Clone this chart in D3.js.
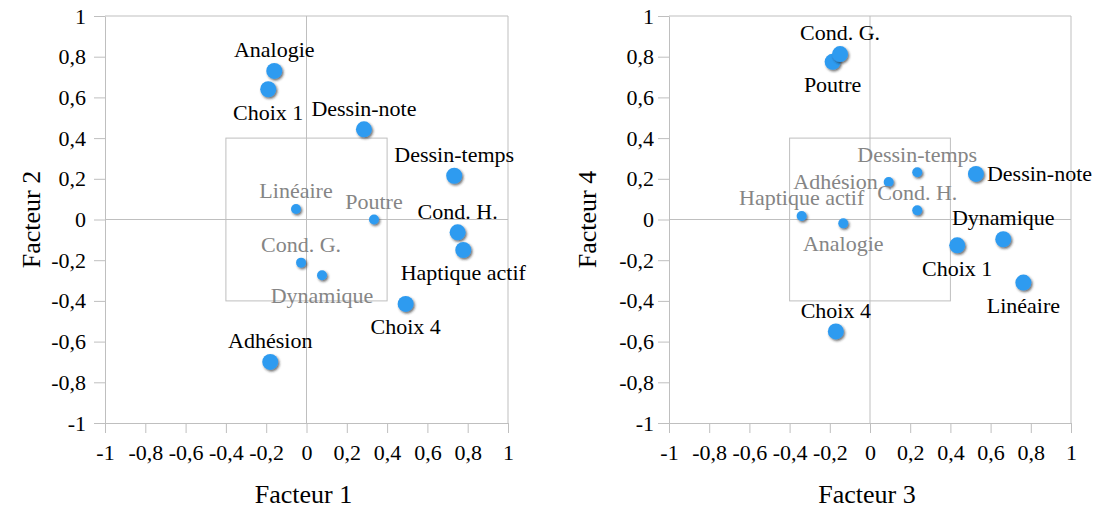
<!DOCTYPE html>
<html><head><meta charset="utf-8">
<script src="https://cdn.jsdelivr.net/npm/d3@7"></script>
</head>
<body style="margin:0">
<svg id="chart" width="1103" height="508"></svg>
<script>
// ---- data ----
const ticks = [-1, -0.8, -0.6, -0.4, -0.2, 0, 0.2, 0.4, 0.6, 0.8, 1];

const labelsA = ["Analogie","Choix 1","Dessin-note","Dessin-temps","Linéaire","Poutre","Cond. H.","Haptique actif","Cond. G.","Dynamique","Choix 4","Adhésion"];
const facteur1 = [-0.16, -0.19, 0.285, 0.733, -0.052, 0.335, 0.75, 0.778, -0.027, 0.077, 0.492, -0.18];
const facteur2 = [0.73, 0.64, 0.443, 0.215, 0.052, 0.0, -0.063, -0.15, -0.212, -0.274, -0.415, -0.70];
const placeA = ["above","below","above","above","above","above","above","below","above","below","below","above"];

const labelsB = ["Poutre","Cond. G.","Dessin-temps","Adhésion","Cond. H.","Haptique actif","Analogie","Dessin-note","Dynamique","Choix 1","Linéaire","Choix 4"];
const facteur3 = [-0.186, -0.149, 0.235, 0.093, 0.235, -0.34, -0.133, 0.527, 0.663, 0.434, 0.763, -0.17];
const facteur4 = [0.775, 0.813, 0.232, 0.184, 0.045, 0.017, -0.019, 0.224, -0.097, -0.127, -0.31, -0.55];
const placeB = ["below","above","above","left","above","above","below","right","above","below","below","above"];

const boxLimit = 0.4;

// ---- drawing ----
const svg = d3.select("#chart");
const gridColor = "#BFBFBF";
const dotColor = "#2F9BF0";
const fmt = v => String(+v.toFixed(1)).replace(".", ",");
const serif = sel => sel.attr("font-family", "Liberation Serif").style("font-family", () => '"Liberation Serif"');

const defs = svg.append("defs");
const f = defs.append("filter").attr("id","shadow").attr("x","-50%").attr("y","-50%").attr("width","200%").attr("height","200%");
f.append("feDropShadow").attr("dx",1.3).attr("dy",1.6).attr("stdDeviation",0.9)
  .attr("flood-color","#222").attr("flood-opacity",0.65);

function panel(cfg) {
  const x = d3.scaleLinear().domain([-1, 1]).range([cfg.x0, cfg.x1]);
  const y = d3.scaleLinear().domain([-1, 1]).range([cfg.y1, cfg.y0]);
  const g = svg.append("g");

  g.append("line").attr("x1", x(-1)).attr("x2", x(1)).attr("y1", y(1)).attr("y2", y(1)).attr("stroke", gridColor);
  g.append("line").attr("x1", x(1)).attr("x2", x(1)).attr("y1", y(1)).attr("y2", y(-1)).attr("stroke", gridColor);
  g.append("line").attr("x1", x(0)).attr("x2", x(0)).attr("y1", y(1)).attr("y2", y(-1)).attr("stroke", gridColor);
  g.append("line").attr("x1", x(-1)).attr("x2", x(1)).attr("y1", y(0)).attr("y2", y(0)).attr("stroke", gridColor);
  g.append("rect").attr("x", x(-boxLimit)).attr("y", y(boxLimit))
    .attr("width", x(boxLimit) - x(-boxLimit)).attr("height", y(-boxLimit) - y(boxLimit))
    .attr("fill", "none").attr("stroke", gridColor);

  const ax = g.append("g").attr("transform", `translate(0,${y(-1)})`)
    .call(d3.axisBottom(x).tickValues(ticks).tickFormat(fmt).tickSize(10).tickSizeOuter(0).tickPadding(11));
  const ay = g.append("g").attr("transform", `translate(${x(-1)},0)`)
    .call(d3.axisLeft(y).tickValues(ticks).tickFormat(fmt).tickSize(11).tickSizeOuter(0).tickPadding(cfg.yPad));
  [ax, ay].forEach(a => {
    a.attr("font-family", "Liberation Serif").attr("font-size", 22);
    a.select(".domain").attr("stroke", gridColor);
    a.selectAll(".tick line").attr("stroke", gridColor);
    a.selectAll(".tick text").attr("fill", "#000").attr("font-size", 22).call(serif);
  });

  g.append("text").attr("x", x(0) - 3).attr("y", 503).attr("text-anchor", "middle")
    .attr("font-size", 26).call(serif).text(cfg.xTitle);
  g.append("text").attr("transform", `translate(${cfg.yTitleX},${y(0)}) rotate(-90)`)
    .attr("text-anchor", "middle").attr("font-size", 26).call(serif).text(cfg.yTitle);

  const data = cfg.labels.map((l, i) => {
    const inside = Math.abs(cfg.xs[i]) < boxLimit && Math.abs(cfg.ys[i]) < boxLimit;
    return { label: l, vx: cfg.xs[i], vy: cfg.ys[i], place: cfg.place[i], small: inside };
  });

  g.selectAll("circle.pt").data(data).join("circle").attr("class", "pt")
    .attr("cx", d => x(d.vx)).attr("cy", d => y(d.vy))
    .attr("r", d => d.small ? 5 : 8)
    .attr("fill", dotColor).attr("filter", "url(#shadow)");

  g.selectAll("text.lbl").data(data).join("text").attr("class", "lbl")
    .attr("font-size", 22).call(serif)
    .attr("fill", d => d.small ? "#858585" : "#000")
    .attr("dy", "0.33em")
    .attr("text-anchor", d => d.place === "left" ? "end" : d.place === "right" ? "start" : "middle")
    .attr("x", d => {
      const r = d.small ? 5 : 8;
      if (d.place === "left") return x(d.vx) - r - 6;
      if (d.place === "right") return x(d.vx) + r + 3;
      return x(d.vx);
    })
    .attr("y", d => {
      const r = d.small ? 5 : 8;
      if (d.place === "above") return y(d.vy) - r - 13;
      if (d.place === "below") return y(d.vy) + r + 15;
      return y(d.vy);
    })
    .text(d => d.label);
}

panel({ x0: 105, x1: 508, y0: 16, y1: 423, yPad: 8, yTitleX: 40,
  labels: labelsA, xs: facteur1, ys: facteur2, place: placeA, xTitle: "Facteur 1", yTitle: "Facteur 2" });
panel({ x0: 669, x1: 1071, y0: 16, y1: 423, yPad: 4, yTitleX: 596,
  labels: labelsB, xs: facteur3, ys: facteur4, place: placeB, xTitle: "Facteur 3", yTitle: "Facteur 4" });
</script>
</body></html>
